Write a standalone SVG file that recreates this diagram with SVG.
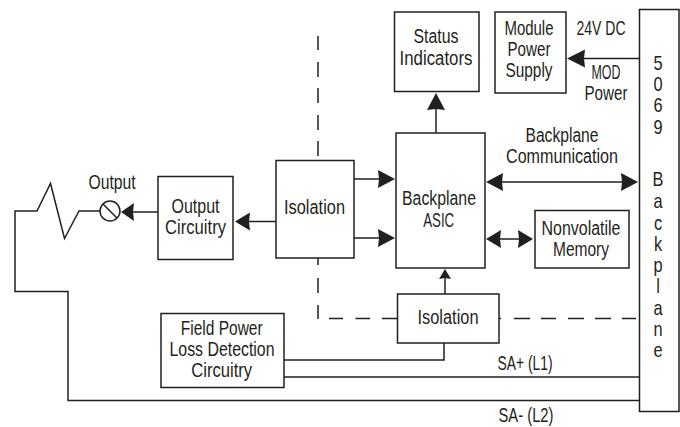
<svg xmlns="http://www.w3.org/2000/svg" width="680" height="427" viewBox="0 0 680 427">
<defs>
<style>
text{font-family:"Liberation Sans Narrow","Liberation Sans",sans-serif;font-size:20px;fill:#231f20;text-anchor:middle}
.b{fill:#fff;stroke:#231f20;stroke-width:1.5}
.l{fill:none;stroke:#231f20;stroke-width:1.5}
.a{fill:#231f20;stroke:none}
</style>
</defs>
<rect width="680" height="427" fill="#fff"/>
<g id="connectors">
<path class="l" d="M318 36V50M318 62V77M318 88V103M318 115V130M318 141V156M318 258V265M318 278V293M318 305V319M329 318.500H343M355.500 318.500H370M382 318.500H397M499 318.500H501M514 318.500H530M541 318.500H556M568 318.500H584M595 318.500H611M622 318.500H636"/>
<path class="l" d="M100 211H79L64.500 238.500L50.500 183.500L37 211H15V291.500H68V400.500H640"/>
<path class="l" d="M284 360H444V343M284 377H640"/>
<path class="l" d="M158 212H130M276 221.500H245M354 179H385M354 238H385M436 133V105M445 294V275M639 58.500H580M495 182H630M495 239H525"/>
<path class="a" d="M121 212L134 203L133 212L134 221Z"/>
<path class="a" d="M235 221.500L250 212.500L249 221.500L250 230.500Z"/>
<path class="a" d="M395 179L378 170L379 179L378 188Z"/>
<path class="a" d="M395 238L378 229L379 238L378 247Z"/>
<path class="a" d="M436 93L427 110L436 109L445 110Z"/>
<path class="a" d="M445 269L439 279L445 278L451 279Z"/>
<path class="a" d="M567 58.500L585 49.500L584 58.500L585 67.500Z"/>
<path class="a" d="M486 182L503 173L502 182L503 191ZM638 182L621 173L622 182L621 191Z"/>
<path class="a" d="M486 239L501 230L500 239L501 248ZM533 239L518 230L519 239L518 248Z"/>
</g>
<g id="output"><circle class="b" cx="110" cy="211" r="10"/><path class="l" d="M103 204L117 218"/><text x="112" y="188.500" textLength="47" lengthAdjust="spacingAndGlyphs">Output</text></g>
<g id="output-circuitry"><rect class="b" x="158" y="176.500" width="75" height="83"/><text x="195.500" y="213" textLength="48" lengthAdjust="spacingAndGlyphs">Output</text><text x="195.500" y="234" textLength="61" lengthAdjust="spacingAndGlyphs">Circuitry</text></g>
<g id="isolation-1"><rect class="b" x="276" y="160.500" width="78" height="97.500"/><text x="314.500" y="214" textLength="61" lengthAdjust="spacingAndGlyphs">Isolation</text></g>
<g id="backplane-asic"><rect class="b" x="396" y="133" width="89" height="135"/><text x="439" y="205" textLength="74" lengthAdjust="spacingAndGlyphs">Backplane</text><text x="438.700" y="226.700" textLength="31" lengthAdjust="spacingAndGlyphs">ASIC</text></g>
<g id="status-indicators"><rect class="b" x="394.500" y="12" width="84.500" height="79.500"/><text x="436" y="42.700" textLength="45" lengthAdjust="spacingAndGlyphs">Status</text><text x="436" y="64.500" textLength="73" lengthAdjust="spacingAndGlyphs">Indicators</text></g>
<g id="module-power-supply"><rect class="b" x="495" y="12" width="71" height="81"/><text x="529" y="35" textLength="49" lengthAdjust="spacingAndGlyphs">Module</text><text x="529" y="55.500" textLength="43" lengthAdjust="spacingAndGlyphs">Power</text><text x="529" y="76.500" textLength="47" lengthAdjust="spacingAndGlyphs">Supply</text></g>
<g id="nonvolatile-memory"><rect class="b" x="535" y="210.500" width="94" height="57.500"/><text x="581" y="235" textLength="79" lengthAdjust="spacingAndGlyphs">Nonvolatile</text><text x="581" y="256" textLength="56" lengthAdjust="spacingAndGlyphs">Memory</text></g>
<g id="isolation-2"><rect class="b" x="397.500" y="294" width="101.500" height="49"/><text x="448" y="324" textLength="61" lengthAdjust="spacingAndGlyphs">Isolation</text></g>
<g id="field-power"><rect class="b" x="161" y="313.500" width="123" height="74"/><text x="221.700" y="335" textLength="82" lengthAdjust="spacingAndGlyphs">Field Power</text><text x="222" y="356" textLength="105" lengthAdjust="spacingAndGlyphs">Loss Detection</text><text x="221.700" y="377" textLength="61" lengthAdjust="spacingAndGlyphs">Circuitry</text></g>
<g id="backplane"><rect class="b" x="639.500" y="9.500" width="39.500" height="402"/>
<g transform="translate(658 0) scale(.82 1)"><text x="0" y="70">5</text><text x="0" y="91.500">0</text><text x="0" y="112.500">6</text><text x="0" y="134">9</text><text x="0" y="186.500">B</text><text x="0" y="208">a</text><text x="0" y="230">c</text><text x="0" y="251">k</text><text x="0" y="272.500">p</text><text x="0" y="293">l</text><text x="0" y="315">a</text><text x="0" y="336.500">n</text><text x="0" y="357.500">e</text></g></g>
<g id="labels">
<text x="601" y="35" textLength="49" lengthAdjust="spacingAndGlyphs">24V DC</text><text x="606" y="79" textLength="29" lengthAdjust="spacingAndGlyphs">MOD</text><text x="606" y="99.500" textLength="43" lengthAdjust="spacingAndGlyphs">Power</text>
<text x="562" y="141.500" textLength="73" lengthAdjust="spacingAndGlyphs">Backplane</text><text x="562" y="162.500" textLength="112" lengthAdjust="spacingAndGlyphs">Communication</text>
<text x="525" y="370" textLength="55" lengthAdjust="spacingAndGlyphs">SA+ (L1)</text><text x="526" y="421.500" textLength="55" lengthAdjust="spacingAndGlyphs">SA- (L2)</text>
</g>
</svg>
